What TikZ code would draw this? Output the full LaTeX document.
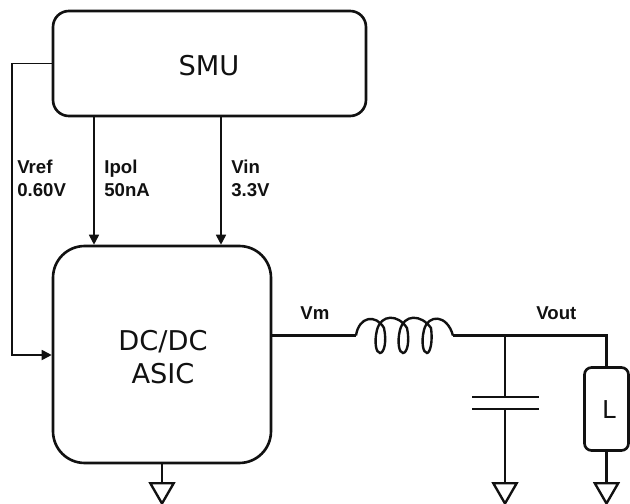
\documentclass[tikz,border=0pt]{standalone}
\usepackage{fontspec}
\setmainfont{Liberation Sans}
\newfontfamily\boxfont{DejaVu Sans}
\usetikzlibrary{positioning,arrows.meta,calc,shapes.geometric}
\definecolor{ink}{HTML}{111111}

\begin{document}
\begin{tikzpicture}[
  x=0.02cm, y=-0.02cm,
  font=\fontsize{10.6pt}{12.5pt}\selectfont\color{ink},
  wire/.style={draw=ink, line width=1.35pt},
  flow/.style={-{Triangle[length=2mm,width=2mm]}, draw=ink, line width=1pt},
  block/.style={draw=ink, line width=1.5pt, inner sep=0pt},
  blocklab/.style={inner sep=0pt, align=center,
    font=\boxfont\fontsize{15.5pt}{18.5pt}\selectfont\color{ink}},
  lab/.style={font=\bfseries\fontsize{10.6pt}{12.7pt}\selectfont\color{ink}, align=left, inner sep=0pt},
  gnd/.style={draw=ink, line width=1.35pt, regular polygon, regular polygon sides=3,
    shape border rotate=180, minimum size=0.54cm, inner sep=0pt},
]
\useasboundingbox (0,0) rectangle (630,504);

% ---- Blocks -----------------------------------------------------------------
\node[block, rounded corners=9pt, minimum width=6.26cm, minimum height=2.1cm] (smu) at (209.5,63.5) {};
\node[block, rounded corners=18pt, minimum width=4.36cm, minimum height=4.34cm] (asic) at (162,354.5) {};
\node[block, rounded corners=4pt, minimum width=0.88cm, minimum height=1.66cm] (load) at (606.5,409) {};

\node[blocklab] (smulab) at (209,66) {SMU};
\node[blocklab] (asiclab) at (163,357) {DC/DC\\ASIC};
\node[blocklab, font=\boxfont\fontsize{14pt}{16pt}\selectfont\color{ink}] (loadlab) at (609,410) {L};

% ---- Supplies from the SMU --------------------------------------------------
\draw[flow] (smu.south -| 94,0) -- (asic.north -| 94,0);
\draw[flow] (smu.south -| 221,0) -- (asic.north -| 221,0);
\draw[flow] (smu.west) -- (12,63.5) |- (asic.west |- 0,355);

\node[lab, anchor=north west] (vref) at (17,160) {Vref\\0.60V};
\node[lab, anchor=north west] (ipol) at (104,160) {Ipol\\50nA};
\node[lab, anchor=north west] (vin) at (231,160) {Vin\\3.3V};

% ---- Output filter ----------------------------------------------------------
\coordinate (lin) at (356,335.5);
\coordinate (lout) at (453,335.5);
\coordinate (vnode) at (505,335.5);
\coordinate (platetop) at (505,397);
\coordinate (platebot) at (505,409);

\draw[wire] (asic.east |- lin) -- (lin);
\draw[wire] (lin) .. controls (359,316) and (376,314) .. (384,328)
  .. controls (387,342) and (384,353) .. (380,353)
  .. controls (376,353) and (374,342) .. (377,330)
  .. controls (381,314) and (398,314) .. (407,328)
  .. controls (410,342) and (407,353) .. (403,353)
  .. controls (399,353) and (397,342) .. (400,330)
  .. controls (404,314) and (421,314) .. (431,328)
  .. controls (433,342) and (430,353) .. (427,353)
  .. controls (423,353) and (421,342) .. (424,330)
  .. controls (428,314) and (447,314) .. (lout);
\draw[wire] (lout) -- (vnode) -- (load.north |- vnode) -- (load.north);

\draw[wire] (vnode) -- (platetop);
\draw[wire] ($(platetop)+(-33,0)$) -- ($(platetop)+(34,0)$);
\draw[wire] ($(platebot)+(-33,0)$) -- ($(platebot)+(34,0)$);

\node[gnd] (gndasic) at (162,490) {};
\node[gnd] (gndcap) at (505,490) {};
\node[gnd] (gndload) at (606.5,490) {};

\draw[wire] (platebot) -- (gndcap.north);
\draw[wire] (load.south) -- (gndload.north);
\draw[wire] (asic.south) -- (gndasic.north);

\node[lab, anchor=south west] (vm) at (300,320) {Vm};
\node[lab, anchor=south west] (vout) at (536,320) {Vout};

\end{tikzpicture}
\end{document}
